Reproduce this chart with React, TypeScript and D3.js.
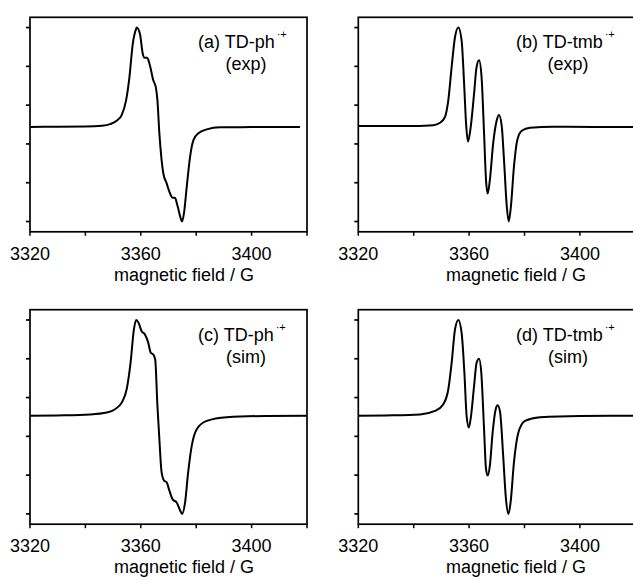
import React from "react";
import * as d3 from "d3";

// ---- data (field in G, normalized intensity) ----
const fieldA = [3320, 3330, 3340, 3346, 3348.9, 3351.3, 3353.1, 3354.7, 3355.9, 3357.1, 3358.3, 3358.5, 3359.7, 3360.7, 3361.4, 3362.3, 3363.3, 3364.5, 3365.4, 3366.0, 3366.7, 3367.5, 3368.1, 3369.3, 3370.5, 3371.5, 3372.3, 3373.3, 3374.2, 3374.9, 3375.6, 3376.6, 3377.8, 3379.0, 3380.8, 3383.8, 3388.6, 3400, 3410, 3417.5];
const intensA = [0.488, 0.489, 0.490, 0.494, 0.502, 0.520, 0.549, 0.626, 0.745, 0.916, 0.993, 1.0, 0.967, 0.865, 0.844, 0.844, 0.805, 0.728, 0.694, 0.626, 0.455, 0.318, 0.250, 0.198, 0.147, 0.122, 0.122, 0.079, 0.027, 0.0, 0.044, 0.181, 0.335, 0.420, 0.455, 0.475, 0.486, 0.487, 0.488, 0.487];

const fieldB = [3320, 3330, 3340, 3347.1, 3349.5, 3351.3, 3352.5, 3353.7, 3354.9, 3356.1, 3357.3, 3358.2, 3358.9, 3359.6, 3360.6, 3361.8, 3362.7, 3363.6, 3364.5, 3365.4, 3366.1, 3366.7, 3367.5, 3368.7, 3370.0, 3370.8, 3371.8, 3372.6, 3373.6, 3374.3, 3375.1, 3376.2, 3377.4, 3379.0, 3382.0, 3390.4, 3405, 3420];
const intensB = [0.492, 0.492, 0.493, 0.497, 0.509, 0.540, 0.626, 0.797, 0.950, 1.0, 0.933, 0.711, 0.506, 0.412, 0.489, 0.660, 0.797, 0.831, 0.745, 0.455, 0.215, 0.144, 0.215, 0.404, 0.523, 0.549, 0.489, 0.318, 0.079, 0.0, 0.079, 0.284, 0.420, 0.468, 0.484, 0.489, 0.488, 0.487];

const fieldC = [3320, 3330, 3341.7, 3347.7, 3350.7, 3353.1, 3354.9, 3356.3, 3357.5, 3358.3, 3359.2, 3360.3, 3361.5, 3362.7, 3363.6, 3364.5, 3365.2, 3366.0, 3366.7, 3367.5, 3368.4, 3369.3, 3370.3, 3371.5, 3373.0, 3374.2, 3374.9, 3376.0, 3377.1, 3378.4, 3380.2, 3383.8, 3391.0, 3405, 3420];
const intensC = [0.506, 0.508, 0.513, 0.523, 0.540, 0.574, 0.643, 0.779, 0.950, 1.0, 0.985, 0.942, 0.925, 0.882, 0.831, 0.822, 0.796, 0.557, 0.386, 0.215, 0.172, 0.164, 0.121, 0.075, 0.058, 0.018, 0.0, 0.061, 0.215, 0.352, 0.437, 0.480, 0.499, 0.505, 0.506];

const fieldD = [3320, 3330, 3342.3, 3347.7, 3350.7, 3352.5, 3353.7, 3354.9, 3356.1, 3357.3, 3358.3, 3359.1, 3359.9, 3360.7, 3361.8, 3362.7, 3363.6, 3364.4, 3365.4, 3366.1, 3366.7, 3367.5, 3368.5, 3369.6, 3370.3, 3371.2, 3372.3, 3373.3, 3374.2, 3375.0, 3376.2, 3377.8, 3380.2, 3385.6, 3400, 3420];
const intensD = [0.506, 0.508, 0.513, 0.531, 0.566, 0.643, 0.779, 0.950, 1.0, 0.933, 0.728, 0.506, 0.446, 0.506, 0.660, 0.779, 0.800, 0.728, 0.437, 0.232, 0.198, 0.249, 0.420, 0.540, 0.560, 0.523, 0.300, 0.078, 0.0, 0.062, 0.267, 0.420, 0.480, 0.499, 0.505, 0.506];

const xTicks = [3320, 3340, 3360, 3380, 3400, 3420];
const xTickLabels = [3320, 3360, 3400];
const yTicks = [0, 0.2, 0.4, 0.6, 0.8, 1.0];
const panelNames = ["(a) TD-ph", "(b) TD-tmb", "(c) TD-ph", "(d) TD-tmb"];
const panelSubs = ["(exp)", "(exp)", "(sim)", "(sim)"];
const xTitle = "magnetic field / G";

const FONT = "'Liberation Sans', Arial, Helvetica, sans-serif";

type PanelProps = {
  field: number[];
  intens: number[];
  left: number;
  top: number;
  name: string;
  sub: string;
  nameX: number;
  subX: number;
  titleX: number;
};

function Panel({ field, intens, left, top, name, sub, nameX, subX, titleX }: PanelProps) {
  const W = 277;
  const H = 214.5;
  const x = d3.scaleLinear().domain([3320, 3420]).range([left, left + W]);
  const y = d3.scaleLinear().domain([-0.053, 1.053]).range([top + H, top]);
  const pts = field.map((f, i) => [f, intens[i]] as [number, number]);
  const line = d3
    .line<[number, number]>()
    .x((d) => x(d[0]))
    .y((d) => y(d[1]))
    .curve(d3.curveMonotoneX);
  const bottom = top + H;
  return (
    <g>
      <path d={line(pts) || ""} fill="none" stroke="#000" strokeWidth={2} strokeLinejoin="round" />
      <rect x={left} y={top} width={W} height={H} fill="none" stroke="#000" strokeWidth={1.7} />
      {yTicks.map((t) => (
        <line key={"y" + t} x1={left - 4} x2={left} y1={y(t)} y2={y(t)} stroke="#000" strokeWidth={1.7} />
      ))}
      {xTicks.map((t) => (
        <line key={"x" + t} x1={x(t)} x2={x(t)} y1={bottom} y2={bottom + 4} stroke="#000" strokeWidth={1.5} />
      ))}
      {xTickLabels.map((t) => (
        <text key={"l" + t} x={x(t)} y={bottom + 28} textAnchor="middle" fontSize={18} fontFamily={FONT} fill="#000">
          {t}
        </text>
      ))}
      <text x={titleX} y={bottom + 49} textAnchor="middle" fontSize={18} fontFamily={FONT} fill="#000">
        {xTitle}
      </text>
      <text x={nameX} y={top + 31} fontSize={18} fontFamily={FONT} fill="#000">
        {name}
        <tspan fontSize={11} dx={2} dy={-10}>·+</tspan>
      </text>
      <text x={subX} y={top + 53} textAnchor="middle" fontSize={18} fontFamily={FONT} fill="#000">
        {sub}
      </text>
    </g>
  );
}

export default function App() {
  return (
    <svg
      width={633}
      height={583}
      style={{ position: "absolute", left: 0, top: 0, background: "#fff" }}
    >
      <rect width={633} height={583} fill="#fff" />
      <Panel field={fieldA} intens={intensA} left={30} top={17.3} name={panelNames[0]} sub={panelSubs[0]} nameX={198} subX={246} titleX={184} />
      <Panel field={fieldB} intens={intensB} left={358.3} top={17.3} name={panelNames[1]} sub={panelSubs[1]} nameX={516} subX={568} titleX={516} />
      <Panel field={fieldC} intens={intensC} left={30} top={309.7} name={panelNames[2]} sub={panelSubs[2]} nameX={198} subX={246} titleX={184} />
      <Panel field={fieldD} intens={intensD} left={358.3} top={309.7} name={panelNames[3]} sub={panelSubs[3]} nameX={516} subX={568} titleX={516} />
    </svg>
  );
}
